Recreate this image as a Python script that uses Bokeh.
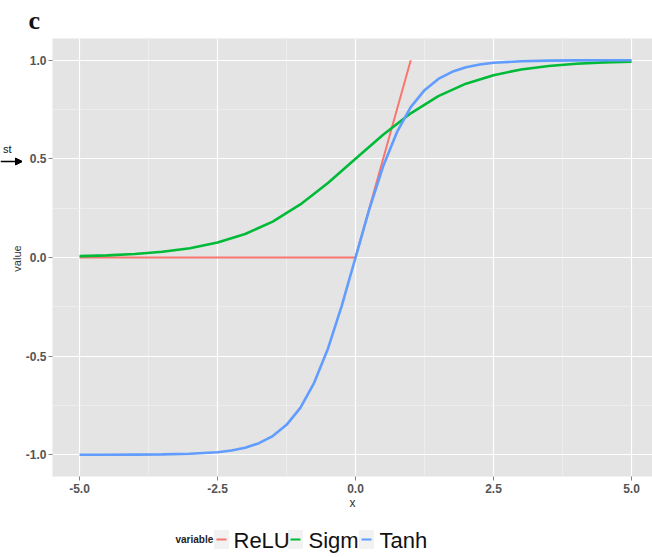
import math
from bokeh.plotting import figure
from bokeh.layouts import column, row
from bokeh.models import Range1d, FixedTicker, Arrow, NormalHead, Title
from bokeh.core.properties import value
from bokeh.embed import file_html
from bokeh.resources import INLINE

# ---- data ----
relu_x = [-5.0, 0.0, 1.0]
relu_y = [0.0, 0.0, 1.0]

sigm_x = [-5.0, -4.5, -4.0, -3.5, -3.0, -2.5, -2.0, -1.5, -1.0, -0.5, 0.0,
          0.5, 1.0, 1.5, 2.0, 2.5, 3.0, 3.5, 4.0, 4.5, 5.0]
sigm_y = [0.007, 0.011, 0.018, 0.029, 0.047, 0.076, 0.119, 0.182, 0.269, 0.378, 0.5,
          0.622, 0.731, 0.818, 0.881, 0.924, 0.953, 0.971, 0.982, 0.989, 0.993]

tanh_x = [-5.0, -4.5, -4.0, -3.5, -3.0, -2.5, -2.25, -2.0, -1.75, -1.5, -1.25, -1.0,
          -0.75, -0.5, -0.25, 0.0, 0.25, 0.5, 0.75, 1.0, 1.25, 1.5, 1.75, 2.0,
          2.25, 2.5, 3.0, 3.5, 4.0, 4.5, 5.0]
tanh_y = [-1.0, -1.0, -0.999, -0.998, -0.995, -0.987, -0.978, -0.964, -0.941, -0.905,
          -0.848, -0.762, -0.635, -0.462, -0.245, 0.0, 0.245, 0.462, 0.635, 0.762,
          0.848, 0.905, 0.941, 0.964, 0.978, 0.987, 0.995, 0.998, 0.999, 1.0, 1.0]

x_ticks = [-5.0, -2.5, 0.0, 2.5, 5.0]
x_tick_labels = ["-5.0", "-2.5", "0.0", "2.5", "5.0"]
y_ticks = [-1.0, -0.5, 0.0, 0.5, 1.0]
y_tick_labels = ["-1.0", "-0.5", "0.0", "0.5", "1.0"]
series_names = ["ReLU", "Sigm", "Tanh"]
series_colors = ["#F8766D", "#00BA38", "#619CFF"]
legend_title = "variable"
panel_tag = "c"
side_note = "st"

FONT = "Liberation Sans"


def bare(fig):
    fig.xaxis.visible = False
    fig.yaxis.visible = False
    fig.grid.visible = False
    fig.outline_line_color = None
    fig.background_fill_color = "white"
    fig.border_fill_color = "white"
    fig.min_border = 0
    return fig


# ---------- main panel ----------
p = figure(width=630, height=512, output_backend="svg", toolbar_location=None,
           x_range=Range1d(-5.49, 5.38), y_range=Range1d(-1.11, 1.11))
p.min_border_left = 30
p.min_border_right = 0
p.min_border_top = 38
p.min_border_bottom = 36
p.background_fill_color = "#E4E4E4"
p.border_fill_color = "white"
p.outline_line_color = None

p.title = Title(text=panel_tag, align="left", offset=-24, standoff=7,
                text_font="Liberation Serif", text_font_style="bold",
                text_font_size="26px", text_color="#111111")

for ax in (p.xaxis[0], p.yaxis[0]):
    ax.axis_line_color = None
    ax.major_tick_line_color = "#7F7F7F"
    ax.major_tick_in = 0
    ax.major_tick_out = 4
    ax.minor_tick_line_color = None
    ax.major_label_text_font = FONT
    ax.major_label_text_font_style = "bold"
    ax.major_label_text_color = "#555555"
    ax.major_label_text_font_size = "12px"
    ax.axis_label_text_font = FONT
    ax.axis_label_text_font_style = "normal"
    ax.axis_label_text_color = "#333333"
    ax.axis_label_text_font_size = "12px"

p.xaxis.ticker = FixedTicker(ticks=x_ticks, minor_ticks=[-3.75, -1.25, 1.25, 3.75])
p.xaxis.major_label_overrides = {t: l for t, l in zip(x_ticks, x_tick_labels)}
p.yaxis.ticker = FixedTicker(ticks=y_ticks, minor_ticks=[-0.75, -0.25, 0.25, 0.75])
p.yaxis.major_label_overrides = {t: l for t, l in zip(y_ticks, y_tick_labels)}
p.xaxis.axis_label = "x"
p.xaxis.axis_label_standoff = 0
p.xaxis.major_label_standoff = 3
p.yaxis.major_label_standoff = 2

p.xgrid.grid_line_color = "white"
p.ygrid.grid_line_color = "white"
p.xgrid.grid_line_width = 1.2
p.ygrid.grid_line_width = 1.2
p.xgrid.minor_grid_line_color = "#F0F0F0"
p.ygrid.minor_grid_line_color = "#F0F0F0"
p.xgrid.minor_grid_line_width = 0.7
p.ygrid.minor_grid_line_width = 0.7

p.line(relu_x, relu_y, line_color=series_colors[0], line_width=2)
p.line(sigm_x, sigm_y, line_color=series_colors[1], line_width=2.6)
p.line(tanh_x, tanh_y, line_color=series_colors[2], line_width=2.6)

# ---------- left strip (its frame is aligned with the main frame: 38..476) ----------
s = bare(figure(width=22, height=512, output_backend="svg", toolbar_location=None,
                x_range=Range1d(0, 22), y_range=Range1d(476, 38)))
s.text(x=[11], y=[148], text=[side_note], text_font=value(FONT),
       text_font_size="11px", text_color="#111111", text_align="right",
       text_baseline="middle")
s.add_layout(Arrow(x_start=0, y_start=161, x_end=22, y_end=161,
                   line_color="black", line_width=1.5,
                   end=NormalHead(size=7, fill_color="black", line_color="black")))
s.text(x=[16], y=[258], text=["value"], angle=[math.pi / 2], text_font=value(FONT),
       text_font_size="11px", text_color="#333333", text_align="center",
       text_baseline="middle")

# ---------- bottom strip: legend ----------
b = bare(figure(width=652, height=45, output_backend="svg", toolbar_location=None,
                x_range=Range1d(0, 652), y_range=Range1d(45, 0)))
key_x = [221, 295, 366]
label_x = [233, 308, 379]
b.text(x=[175], y=[27], text=[legend_title], text_font=value(FONT),
       text_font_style="bold", text_font_size="10px", text_color="#222222",
       text_baseline="middle")
b.rect(x=key_x, y=[27] * 3, width=15, height=19, fill_color="#F2F2F2",
       line_color=None)
b.segment(x0=[k - 5 for k in key_x], y0=[27] * 3, x1=[k + 5 for k in key_x],
          y1=[27] * 3, line_color=series_colors, line_width=2)
b.text(x=label_x, y=[28] * 3, text=series_names, text_font=value(FONT),
       text_font_size="22px", text_color="#111111", text_baseline="middle")

layout = column(row(s, p), b)
open("out.html", "w").write(file_html(layout, INLINE))
